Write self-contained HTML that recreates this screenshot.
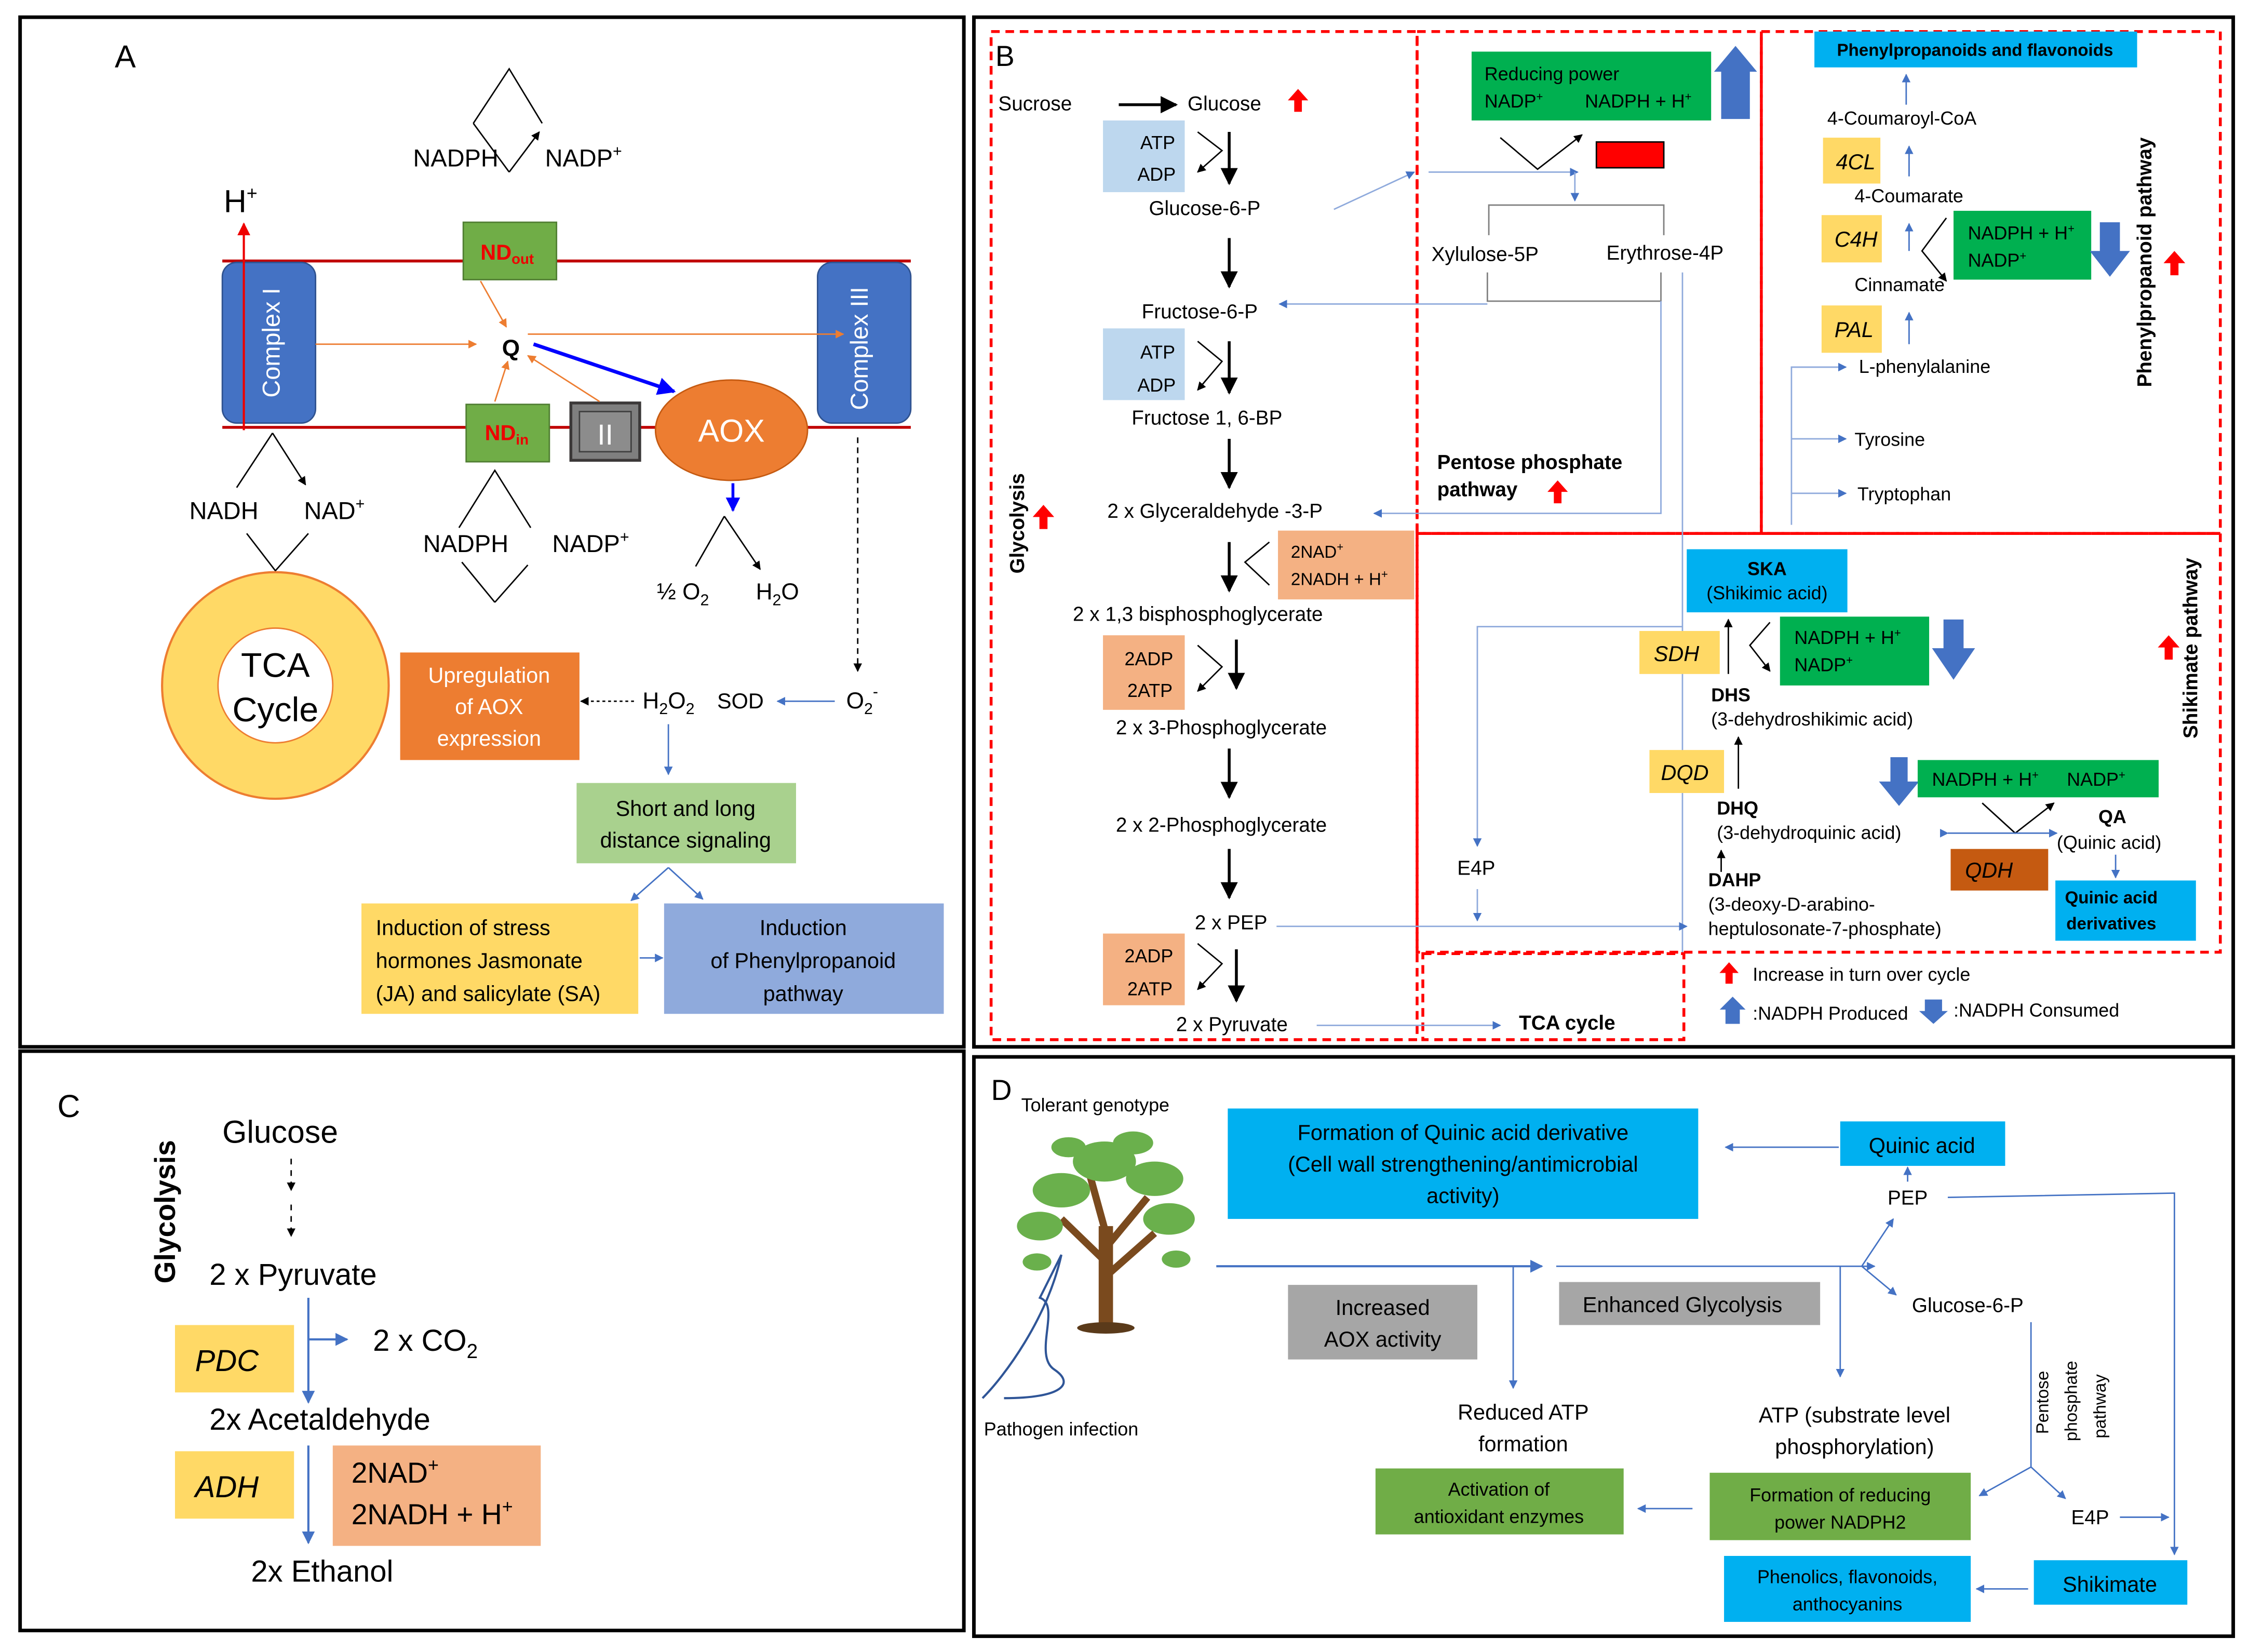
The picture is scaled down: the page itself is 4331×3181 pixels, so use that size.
<!DOCTYPE html>
<html><head><meta charset="utf-8"><style>
html,body{margin:0;padding:0;background:#fff}
svg{display:block}
text{font-family:"Liberation Sans",sans-serif;fill:#000}
</style></head><body>
<svg width="4331" height="3181" viewBox="0 0 1568 1152" preserveAspectRatio="none" xmlns="http://www.w3.org/2000/svg">
<defs>
<marker id="ab" viewBox="0 0 10 10" refX="9" refY="5" markerWidth="6" markerHeight="6" orient="auto"><path d="M0,0L10,5L0,10z" fill="#000"/></marker>
<marker id="abl" viewBox="0 0 10 10" refX="9" refY="5" markerWidth="6" markerHeight="6" orient="auto"><path d="M0,0L10,5L0,10z" fill="#4472C4"/></marker>
<marker id="abb" viewBox="0 0 10 10" refX="9" refY="5" markerWidth="5" markerHeight="5" orient="auto"><path d="M0,0L10,5L0,10z" fill="#0000ff"/></marker>
<marker id="ao" viewBox="0 0 10 10" refX="9" refY="5" markerWidth="6" markerHeight="6" orient="auto"><path d="M0,0L10,5L0,10z" fill="#ED7D31"/></marker>
<marker id="ar" viewBox="0 0 10 10" refX="9" refY="5" markerWidth="6" markerHeight="6" orient="auto"><path d="M0,0L10,5L0,10z" fill="#e00"/></marker>
<symbol id="rup" viewBox="0 0 16 18"><path d="M8,0L16,9H11V18H5V9H0z" fill="#f00"/></symbol>
</defs>
<rect width="1568" height="1152" fill="#fff"/>
<rect x="14" y="12" width="658" height="718" fill="none" stroke="#000" stroke-width="2.5"/>
<rect x="679" y="12" width="878" height="718" fill="none" stroke="#000" stroke-width="2.5"/>
<rect x="14" y="733" width="658" height="404" fill="none" stroke="#000" stroke-width="2.5"/>
<rect x="679" y="737" width="878" height="404" fill="none" stroke="#000" stroke-width="2.5"/>

<!-- ===== A ===== -->
<text x="80" y="47" font-size="22">A</text>
<line x1="155" y1="182" x2="635" y2="182" stroke="#c00000" stroke-width="2"/>
<line x1="155" y1="298" x2="635" y2="298" stroke="#c00000" stroke-width="2"/>
<rect x="155" y="183" width="65" height="112" rx="10" fill="#4472C4" stroke="#2f528f"/>
<text transform="translate(195,239) rotate(-90)" font-size="17" text-anchor="middle" style="fill:#fff">Complex I</text>
<rect x="570" y="183" width="65" height="112" rx="10" fill="#4472C4" stroke="#2f528f"/>
<text transform="translate(605,243) rotate(-90)" font-size="17" text-anchor="middle" style="fill:#fff">Complex III</text>
<text x="156" y="148" font-size="22">H<tspan font-size="13" dy="-9">+</tspan></text>
<line x1="170" y1="300" x2="170" y2="156" stroke="#e00" stroke-width="1.5" marker-end="url(#ar)"/>
<polyline points="330,86 355,48 378,86" fill="none" stroke="#000"/>
<line x1="355" y1="120" x2="330" y2="86" stroke="#000"/>
<line x1="355" y1="120" x2="376" y2="92" stroke="#000" marker-end="url(#ab)"/>
<text x="288" y="116" font-size="17">NADPH</text>
<text x="380" y="116" font-size="17">NADP<tspan font-size="11" dy="-7">+</tspan></text>
<rect x="323" y="155" width="65" height="40" fill="#70AD47" stroke="#507e32"/>
<text x="335" y="181" font-size="15" font-weight="bold" style="fill:#e00">ND<tspan font-size="10" dy="3">out</tspan></text>
<rect x="325" y="282" width="58" height="40" fill="#70AD47" stroke="#507e32"/>
<text x="338" y="307" font-size="15" font-weight="bold" style="fill:#e00">ND<tspan font-size="10" dy="3">in</tspan></text>
<rect x="398" y="281" width="48" height="40" fill="#7f7f7f" stroke="#3b3838" stroke-width="2"/>
<rect x="404" y="287" width="36" height="28" fill="#8c8c8c" stroke="#404040"/>
<text x="422" y="310" font-size="20" text-anchor="middle" style="fill:#fff">II</text>
<ellipse cx="510" cy="300" rx="53" ry="35" fill="#ED7D31" stroke="#c55a11"/>
<text x="510" y="308" font-size="22" text-anchor="middle" style="fill:#fff">AOX</text>
<text x="350" y="248" font-size="16" font-weight="bold">Q</text>
<line x1="220" y1="240" x2="332" y2="240" stroke="#ED7D31" marker-end="url(#ao)"/>
<line x1="368" y1="233" x2="588" y2="233" stroke="#ED7D31" marker-end="url(#ao)"/>
<line x1="335" y1="196" x2="353" y2="228" stroke="#ED7D31" marker-end="url(#ao)"/>
<line x1="345" y1="280" x2="354" y2="252" stroke="#ED7D31" marker-end="url(#ao)"/>
<line x1="418" y1="280" x2="368" y2="248" stroke="#ED7D31" marker-end="url(#ao)"/>
<line x1="372" y1="240" x2="470" y2="273" stroke="#0000ff" stroke-width="2.5" marker-end="url(#abb)"/>
<polyline points="320,368 345,328 370,368" fill="none" stroke="#000"/>
<line x1="345" y1="420" x2="322" y2="392" stroke="#000"/>
<line x1="345" y1="420" x2="368" y2="394" stroke="#000"/>
<text x="295" y="385" font-size="17">NADPH</text>
<text x="385" y="385" font-size="17">NADP<tspan font-size="11" dy="-7">+</tspan></text>
<line x1="190" y1="302" x2="165" y2="340" stroke="#000"/>
<line x1="190" y1="302" x2="213" y2="338" stroke="#000" marker-end="url(#ab)"/>
<polyline points="172,372 192,398 215,372" fill="none" stroke="#000"/>
<text x="132" y="362" font-size="17">NADH</text>
<text x="212" y="362" font-size="17">NAD<tspan font-size="11" dy="-7">+</tspan></text>
<circle cx="192" cy="478" r="79" fill="#FFD966" stroke="#ED7D31" stroke-width="1.5"/>
<circle cx="192" cy="478" r="40" fill="#fff" stroke="#ED7D31"/>
<text x="192" y="472" font-size="24" text-anchor="middle">TCA</text>
<text x="192" y="503" font-size="24" text-anchor="middle">Cycle</text>
<line x1="511" y1="337" x2="511" y2="356" stroke="#0000ff" stroke-width="2" marker-end="url(#abb)"/>
<line x1="505" y1="360" x2="485" y2="395" stroke="#000"/>
<line x1="505" y1="360" x2="530" y2="397" stroke="#000" marker-end="url(#ab)"/>
<text x="458" y="418" font-size="16">½ O<tspan font-size="11" dy="4">2</tspan></text>
<text x="527" y="418" font-size="16">H<tspan font-size="11" dy="4">2</tspan><tspan dy="-4">O</tspan></text>
<line x1="598" y1="305" x2="598" y2="468" stroke="#000" stroke-dasharray="4,3" marker-end="url(#ab)"/>
<text x="590" y="494" font-size="16">O<tspan font-size="11" dy="4">2</tspan><tspan font-size="11" dy="-12">-</tspan></text>
<line x1="582" y1="489" x2="542" y2="489" stroke="#4472C4" marker-end="url(#abl)"/>
<text x="500" y="494" font-size="15">SOD</text>
<text x="448" y="494" font-size="16">H<tspan font-size="11" dy="4">2</tspan><tspan dy="-4">O</tspan><tspan font-size="11" dy="4">2</tspan></text>
<line x1="442" y1="489" x2="405" y2="489" stroke="#000" stroke-dasharray="2,2" marker-end="url(#ab)"/>
<rect x="279" y="455" width="125" height="75" fill="#ED7D31"/>
<text x="341" y="476" font-size="15" text-anchor="middle" style="fill:#fff">Upregulation</text>
<text x="341" y="498" font-size="15" text-anchor="middle" style="fill:#fff">of AOX</text>
<text x="341" y="520" font-size="15" text-anchor="middle" style="fill:#fff">expression</text>
<line x1="466" y1="505" x2="466" y2="540" stroke="#4472C4" marker-end="url(#abl)"/>
<rect x="402" y="546" width="153" height="56" fill="#A9D18E"/>
<text x="478" y="569" font-size="15" text-anchor="middle">Short and long</text>
<text x="478" y="591" font-size="15" text-anchor="middle">distance signaling</text>
<line x1="466" y1="605" x2="440" y2="628" stroke="#4472C4" marker-end="url(#abl)"/>
<line x1="466" y1="605" x2="490" y2="627" stroke="#4472C4" marker-end="url(#abl)"/>
<rect x="252" y="630" width="193" height="77" fill="#FFD966"/>
<text x="262" y="652" font-size="15">Induction of stress</text>
<text x="262" y="675" font-size="15">hormones Jasmonate</text>
<text x="262" y="698" font-size="15">(JA) and salicylate (SA)</text>
<line x1="446" y1="668" x2="462" y2="668" stroke="#4472C4" marker-end="url(#abl)"/>
<rect x="463" y="630" width="195" height="77" fill="#8FAADC"/>
<text x="560" y="652" font-size="15" text-anchor="middle">Induction</text>
<text x="560" y="675" font-size="15" text-anchor="middle">of Phenylpropanoid</text>
<text x="560" y="698" font-size="15" text-anchor="middle">pathway</text>

<!-- ===== B ===== -->
<g fill="none" stroke="#f00" stroke-width="2" stroke-dasharray="6,4">
<rect x="691" y="22" width="297" height="703"/>
<rect x="988" y="22" width="240" height="350"/>
<rect x="1228" y="22" width="320" height="350"/>
<rect x="988" y="372" width="560" height="292"/>
<rect x="992" y="665" width="182" height="60"/>
</g>
<text x="694" y="46" font-size="20">B</text>
<text x="696" y="77" font-size="14">Sucrose</text>
<line x1="780" y1="73" x2="820" y2="73" stroke="#000" stroke-width="2" marker-end="url(#ab)"/>
<text x="828" y="77" font-size="14">Glucose</text>
<use href="#rup" x="897" y="62" width="16" height="16"/>
<g font-size="13">
<rect x="769" y="84" width="57" height="50" fill="#BDD7EE"/>
<text x="795" y="104">ATP</text><text x="793" y="126">ADP</text>
<rect x="769" y="229" width="57" height="50" fill="#BDD7EE"/>
<text x="795" y="250">ATP</text><text x="793" y="273">ADP</text>
</g>
<g stroke="#000" fill="none">
<polyline points="835,92 852,105 835,120" marker-end="url(#ab)"/>
<polyline points="835,238 852,252 835,272" marker-end="url(#ab)"/>
</g>
<g stroke="#000" stroke-width="2" marker-end="url(#ab)">
<line x1="857" y1="92" x2="857" y2="128"/>
<line x1="857" y1="166" x2="857" y2="200"/>
<line x1="857" y1="238" x2="857" y2="274"/>
<line x1="857" y1="306" x2="857" y2="340"/>
<line x1="857" y1="378" x2="857" y2="412"/>
<line x1="862" y1="446" x2="862" y2="480"/>
<line x1="857" y1="522" x2="857" y2="556"/>
<line x1="857" y1="592" x2="857" y2="626"/>
<line x1="862" y1="662" x2="862" y2="698"/>
</g>
<g font-size="14">
<text x="801" y="150">Glucose-6-P</text>
<text x="796" y="222">Fructose-6-P</text>
<text x="789" y="296">Fructose 1, 6-BP</text>
<text x="772" y="361">2 x Glyceraldehyde -3-P</text>
<text x="748" y="433">2 x 1,3 bisphosphoglycerate</text>
<text x="778" y="512">2 x 3-Phosphoglycerate</text>
<text x="778" y="580">2 x 2-Phosphoglycerate</text>
<text x="833" y="648">2 x PEP</text>
<text x="820" y="719">2 x Pyruvate</text>
</g>
<rect x="891" y="370" width="95" height="48" fill="#F4B183"/>
<text x="900" y="389" font-size="12">2NAD<tspan font-size="8" dy="-5">+</tspan></text>
<text x="900" y="408" font-size="12">2NADH + H<tspan font-size="8" dy="-5">+</tspan></text>
<polyline points="885,378 868,392 885,408" fill="none" stroke="#000"/>
<rect x="769" y="443" width="57" height="52" fill="#F4B183"/>
<text x="784" y="464" font-size="13">2ADP</text><text x="786" y="486" font-size="13">2ATP</text>
<polyline points="835,450 852,465 835,482" fill="none" stroke="#000" marker-end="url(#ab)"/>
<rect x="769" y="651" width="57" height="50" fill="#F4B183"/>
<text x="784" y="671" font-size="13">2ADP</text><text x="786" y="694" font-size="13">2ATP</text>
<polyline points="835,658 852,672 835,690" fill="none" stroke="#000" marker-end="url(#ab)"/>
<text transform="translate(714,400) rotate(-90)" font-size="14" font-weight="bold">Glycolysis</text>
<use href="#rup" x="720" y="352" width="15" height="17"/>
<rect x="1026" y="36" width="167" height="48" fill="#00B050"/>
<text x="1035" y="56" font-size="13">Reducing power</text>
<text x="1035" y="75" font-size="13">NADP<tspan font-size="8" dy="-5">+</tspan></text>
<text x="1105" y="75" font-size="13">NADPH + H<tspan font-size="8" dy="-5">+</tspan></text>
<path d="M1200,83V50H1195L1210,32L1225,50H1220V83z" fill="#4472C4"/>
<polyline points="1046,96 1072,118 1103,94" fill="none" stroke="#000" marker-end="url(#ab)"/>
<rect x="1113" y="99" width="47" height="18" fill="#f00" stroke="#000"/>
<line x1="930" y1="146" x2="986" y2="120" stroke="#8FAADC" marker-end="url(#abl)"/>
<line x1="996" y1="120" x2="1100" y2="120" stroke="#8FAADC" marker-end="url(#abl)"/>
<line x1="1098" y1="120" x2="1098" y2="140" stroke="#8FAADC" marker-end="url(#abl)"/>
<polyline points="1038,164 1038,143 1160,143 1160,164" fill="none" stroke="#7f7f7f"/>
<text x="998" y="182" font-size="14">Xylulose-5P</text>
<text x="1120" y="181" font-size="14">Erythrose-4P</text>
<polyline points="1037,190 1037,210 1158,210 1158,190" fill="none" stroke="#7f7f7f"/>
<line x1="1037" y1="212" x2="892" y2="212" stroke="#8FAADC" marker-end="url(#abl)"/>
<polyline points="1158,210 1158,358 958,358" fill="none" stroke="#8FAADC" marker-end="url(#abl)"/>
<line x1="1173" y1="190" x2="1173" y2="664" stroke="#8FAADC"/>
<text x="1002" y="327" font-size="14" font-weight="bold">Pentose phosphate</text>
<text x="1002" y="346" font-size="14" font-weight="bold">pathway</text>
<use href="#rup" x="1078" y="335" width="16" height="16"/>
<rect x="1265" y="22" width="225" height="25" fill="#00B0F0"/>
<text x="1377" y="39" font-size="12" text-anchor="middle" font-weight="bold">Phenylpropanoids and flavonoids</text>
<line x1="1329" y1="73" x2="1329" y2="52" stroke="#4472C4" marker-end="url(#abl)"/>
<text x="1274" y="87" font-size="13">4-Coumaroyl-CoA</text>
<rect x="1271" y="96" width="40" height="32" fill="#FFD966"/>
<text x="1280" y="118" font-size="15" font-style="italic">4CL</text>
<line x1="1331" y1="123" x2="1331" y2="102" stroke="#4472C4" marker-end="url(#abl)"/>
<text x="1293" y="141" font-size="13">4-Coumarate</text>
<rect x="1270" y="150" width="42" height="33" fill="#FFD966"/>
<text x="1279" y="172" font-size="15" font-style="italic">C4H</text>
<line x1="1331" y1="175" x2="1331" y2="156" stroke="#4472C4" marker-end="url(#abl)"/>
<polyline points="1357,152 1340,175 1357,196" fill="none" stroke="#000" marker-end="url(#ab)"/>
<rect x="1362" y="147" width="96" height="48" fill="#00B050"/>
<text x="1372" y="167" font-size="13">NADPH + H<tspan font-size="8" dy="-5">+</tspan></text>
<text x="1372" y="186" font-size="13">NADP<tspan font-size="8" dy="-5">+</tspan></text>
<path d="M1464,155H1478V175H1485L1471,193L1457,175H1464z" fill="#4472C4"/>
<text x="1293" y="203" font-size="13">Cinnamate</text>
<rect x="1270" y="213" width="42" height="33" fill="#FFD966"/>
<text x="1279" y="235" font-size="15" font-style="italic">PAL</text>
<line x1="1331" y1="240" x2="1331" y2="218" stroke="#4472C4" marker-end="url(#abl)"/>
<polyline points="1287,256 1249,256 1249,366" fill="none" stroke="#8FAADC"/>
<line x1="1249" y1="256" x2="1287" y2="256" stroke="#8FAADC" marker-end="url(#abl)"/>
<line x1="1249" y1="306" x2="1287" y2="306" stroke="#8FAADC" marker-end="url(#abl)"/>
<line x1="1249" y1="344" x2="1287" y2="344" stroke="#8FAADC" marker-end="url(#abl)"/>
<text x="1296" y="260" font-size="13">L-phenylalanine</text>
<text x="1293" y="311" font-size="13">Tyrosine</text>
<text x="1295" y="349" font-size="13">Tryptophan</text>
<text transform="translate(1500,270) rotate(-90)" font-size="14" font-weight="bold">Phenylpropanoid  pathway</text>
<use href="#rup" x="1508" y="175" width="16" height="17"/>
<rect x="1176" y="383" width="112" height="44" fill="#00B0F0"/>
<text x="1232" y="401" font-size="13" text-anchor="middle" font-weight="bold">SKA</text>
<text x="1232" y="418" font-size="13" text-anchor="middle">(Shikimic acid)</text>
<rect x="1143" y="440" width="56" height="30" fill="#FFD966"/>
<text x="1153" y="461" font-size="15" font-style="italic">SDH</text>
<line x1="1205" y1="470" x2="1205" y2="432" stroke="#000" marker-end="url(#ab)"/>
<polyline points="1234,434 1220,450 1234,468" fill="none" stroke="#000" marker-end="url(#ab)"/>
<rect x="1241" y="430" width="104" height="48" fill="#00B050"/>
<text x="1251" y="449" font-size="13">NADPH + H<tspan font-size="8" dy="-5">+</tspan></text>
<text x="1251" y="468" font-size="13">NADP<tspan font-size="8" dy="-5">+</tspan></text>
<path d="M1355,432H1369V452H1377L1362,474L1347,452H1355z" fill="#4472C4"/>
<text x="1193" y="489" font-size="13" font-weight="bold">DHS</text>
<text x="1193" y="506" font-size="13">(3-dehydroshikimic acid)</text>
<rect x="1150" y="523" width="52" height="30" fill="#FFD966"/>
<text x="1158" y="544" font-size="15" font-style="italic">DQD</text>
<line x1="1212" y1="550" x2="1212" y2="514" stroke="#000" marker-end="url(#ab)"/>
<text x="1197" y="568" font-size="13" font-weight="bold">DHQ</text>
<text x="1197" y="585" font-size="13">(3-dehydroquinic acid)</text>
<line x1="1200" y1="608" x2="1200" y2="593" stroke="#000" marker-end="url(#ab)"/>
<text x="1191" y="618" font-size="13" font-weight="bold">DAHP</text>
<text x="1191" y="635" font-size="13">(3-deoxy-D-arabino-</text>
<text x="1191" y="652" font-size="13">heptulosonate-7-phosphate)</text>
<path d="M1318,528H1330V545H1338L1324,562L1310,545H1318z" fill="#4472C4"/>
<rect x="1337" y="530" width="168" height="26" fill="#00B050"/>
<text x="1347" y="548" font-size="13">NADPH + H<tspan font-size="8" dy="-5">+</tspan></text>
<text x="1441" y="548" font-size="13">NADP<tspan font-size="8" dy="-5">+</tspan></text>
<polyline points="1382,560 1405,581 1432,560" fill="none" stroke="#000" marker-end="url(#ab)"/>
<line x1="1358" y1="581" x2="1434" y2="581" stroke="#4472C4" marker-end="url(#abl)" marker-start="url(#abl)"/>
<text x="1463" y="574" font-size="13" font-weight="bold">QA</text>
<text x="1434" y="592" font-size="13">(Quinic acid)</text>
<rect x="1360" y="592" width="68" height="29" fill="#C55A11"/>
<text x="1370" y="612" font-size="15" font-style="italic">QDH</text>
<line x1="1475" y1="596" x2="1475" y2="612" stroke="#4472C4" marker-end="url(#abl)"/>
<rect x="1433" y="614" width="98" height="42" fill="#00B0F0"/>
<text x="1472" y="630" font-size="12" text-anchor="middle" font-weight="bold">Quinic acid</text>
<text x="1472" y="648" font-size="12" text-anchor="middle" font-weight="bold">derivatives</text>
<text transform="translate(1532,515) rotate(-90)" font-size="14" font-weight="bold">Shikimate pathway</text>
<use href="#rup" x="1504" y="443" width="16" height="17"/>
<polyline points="1173,437 1030,437 1030,590" fill="none" stroke="#8FAADC" marker-end="url(#abl)"/>
<text x="1016" y="610" font-size="14">E4P</text>
<line x1="1030" y1="620" x2="1030" y2="642" stroke="#8FAADC" marker-end="url(#abl)"/>
<line x1="890" y1="646" x2="1176" y2="646" stroke="#8FAADC" marker-end="url(#abl)"/>
<line x1="918" y1="715" x2="1046" y2="715" stroke="#8FAADC" marker-end="url(#abl)"/>
<text x="1059" y="718" font-size="14" font-weight="bold">TCA cycle</text>
<use href="#rup" x="1198" y="671" width="15" height="15"/>
<text x="1222" y="684" font-size="13">Increase in turn over cycle</text>
<path d="M1203,714V704H1199L1208,695L1217,704H1213V714z" fill="#4472C4"/>
<text x="1222" y="711" font-size="13">:NADPH Produced</text>
<path d="M1342,697H1354V705H1358L1348,714L1338,705H1342z" fill="#4472C4"/>
<text x="1362" y="709" font-size="13">:NADPH Consumed</text>

<!-- ===== C ===== -->
<text x="40" y="779" font-size="22">C</text>
<text transform="translate(122,895) rotate(-90)" font-size="20" font-weight="bold">Glycolysis</text>
<text x="155" y="797" font-size="22">Glucose</text>
<line x1="203" y1="808" x2="203" y2="830" stroke="#000" stroke-dasharray="4,4" marker-end="url(#ab)"/>
<line x1="203" y1="840" x2="203" y2="862" stroke="#000" stroke-dasharray="4,4" marker-end="url(#ab)"/>
<text x="146" y="896" font-size="21">2 x Pyruvate</text>
<rect x="122" y="924" width="83" height="47" fill="#FFD966"/>
<text x="136" y="956" font-size="21" font-style="italic">PDC</text>
<line x1="215" y1="905" x2="215" y2="978" stroke="#4472C4" stroke-width="1.5" marker-end="url(#abl)"/>
<line x1="215" y1="934" x2="242" y2="934" stroke="#4472C4" stroke-width="1.5" marker-end="url(#abl)"/>
<text x="260" y="942" font-size="21">2 x CO<tspan font-size="14" dy="5">2</tspan></text>
<text x="146" y="997" font-size="21">2x Acetaldehyde</text>
<rect x="122" y="1012" width="83" height="47" fill="#FFD966"/>
<text x="136" y="1044" font-size="21" font-style="italic">ADH</text>
<rect x="232" y="1008" width="145" height="70" fill="#F4B183"/>
<text x="245" y="1034" font-size="20">2NAD<tspan font-size="13" dy="-8">+</tspan></text>
<text x="245" y="1063" font-size="20">2NADH + H<tspan font-size="13" dy="-8">+</tspan></text>
<line x1="215" y1="1008" x2="215" y2="1076" stroke="#4472C4" stroke-width="1.5" marker-end="url(#abl)"/>
<text x="175" y="1103" font-size="21">2x Ethanol</text>

<!-- ===== D ===== -->
<text x="691" y="767" font-size="20">D</text>
<text x="712" y="775" font-size="13">Tolerant genotype</text>
<rect x="766" y="855" width="10" height="70" fill="#7a4a1e"/>
<path d="M771,880L740,850M771,870L800,835M771,860L760,820M771,890L805,860" stroke="#7a4a1e" stroke-width="5" fill="none"/>
<g fill="#6ab04c">
<ellipse cx="740" cy="830" rx="20" ry="12"/><ellipse cx="770" cy="810" rx="22" ry="14"/><ellipse cx="805" cy="822" rx="20" ry="12"/>
<ellipse cx="725" cy="855" rx="16" ry="10"/><ellipse cx="815" cy="850" rx="18" ry="11"/><ellipse cx="790" cy="797" rx="14" ry="8"/>
<ellipse cx="745" cy="800" rx="12" ry="7"/><ellipse cx="820" cy="878" rx="10" ry="6"/><ellipse cx="723" cy="880" rx="10" ry="6"/>
</g>
<ellipse cx="771" cy="926" rx="20" ry="4" fill="#5a3a1a"/>
<path d="M685,975C700,960 730,920 740,875L725,905C740,910 720,945 735,955C750,965 740,975 700,975" fill="none" stroke="#2f5597" stroke-width="1.5"/>
<text x="686" y="1001" font-size="13">Pathogen infection</text>
<line x1="848" y1="883" x2="1075" y2="883" stroke="#4472C4" stroke-width="1.5" marker-end="url(#abl)"/>
<line x1="1085" y1="883" x2="1307" y2="883" stroke="#4472C4" marker-end="url(#abl)"/>
<line x1="1298" y1="883" x2="1320" y2="850" stroke="#4472C4" marker-end="url(#abl)"/>
<line x1="1298" y1="883" x2="1322" y2="903" stroke="#4472C4" marker-end="url(#abl)"/>
<line x1="1055" y1="883" x2="1055" y2="968" stroke="#4472C4" marker-end="url(#abl)"/>
<line x1="1283" y1="883" x2="1283" y2="960" stroke="#4472C4" marker-end="url(#abl)"/>
<rect x="856" y="773" width="328" height="77" fill="#00B0F0"/>
<text x="1020" y="795" font-size="15" text-anchor="middle">Formation of Quinic acid derivative</text>
<text x="1020" y="817" font-size="15" text-anchor="middle">(Cell wall strengthening/antimicrobial</text>
<text x="1020" y="839" font-size="15" text-anchor="middle">activity)</text>
<rect x="1283" y="782" width="115" height="31" fill="#00B0F0"/>
<text x="1340" y="804" font-size="15" text-anchor="middle">Quinic acid</text>
<line x1="1282" y1="800" x2="1203" y2="800" stroke="#4472C4" marker-end="url(#abl)"/>
<line x1="1330" y1="824" x2="1330" y2="814" stroke="#4472C4" marker-end="url(#abl)"/>
<text x="1316" y="840" font-size="14">PEP</text>
<polyline points="1358,835 1516,832 1516,1084" fill="none" stroke="#4472C4" marker-end="url(#abl)"/>
<rect x="898" y="896" width="132" height="52" fill="#A6A6A6"/>
<text x="964" y="917" font-size="15" text-anchor="middle">Increased</text>
<text x="964" y="939" font-size="15" text-anchor="middle">AOX activity</text>
<rect x="1087" y="894" width="182" height="30" fill="#A6A6A6"/>
<text x="1173" y="915" font-size="15" text-anchor="middle">Enhanced Glycolysis</text>
<text x="1333" y="915" font-size="14">Glucose-6-P</text>
<text x="1062" y="990" font-size="15" text-anchor="middle">Reduced ATP</text>
<text x="1062" y="1012" font-size="15" text-anchor="middle">formation</text>
<text x="1293" y="992" font-size="15" text-anchor="middle">ATP (substrate level</text>
<text x="1293" y="1014" font-size="15" text-anchor="middle">phosphorylation)</text>
<polyline points="1416,922 1416,1023 1380,1043" fill="none" stroke="#4472C4" marker-end="url(#abl)"/>
<line x1="1416" y1="1023" x2="1440" y2="1045" stroke="#4472C4" marker-end="url(#abl)"/>
<text transform="translate(1428,1000) rotate(-90)" font-size="12">Pentose</text>
<text transform="translate(1448,1005) rotate(-90)" font-size="12">phosphate</text>
<text transform="translate(1468,1003) rotate(-90)" font-size="12">pathway</text>
<text x="1444" y="1063" font-size="14">E4P</text>
<line x1="1478" y1="1058" x2="1512" y2="1058" stroke="#4472C4" marker-end="url(#abl)"/>
<rect x="959" y="1024" width="173" height="46" fill="#70AD47"/>
<text x="1045" y="1043" font-size="13" text-anchor="middle">Activation of</text>
<text x="1045" y="1062" font-size="13" text-anchor="middle">antioxidant enzymes</text>
<line x1="1180" y1="1052" x2="1142" y2="1052" stroke="#4472C4" marker-end="url(#abl)"/>
<rect x="1192" y="1027" width="182" height="47" fill="#70AD47"/>
<text x="1283" y="1047" font-size="13" text-anchor="middle">Formation of reducing</text>
<text x="1283" y="1066" font-size="13" text-anchor="middle">power NADPH2</text>
<rect x="1202" y="1085" width="172" height="46" fill="#00B0F0"/>
<text x="1288" y="1104" font-size="13" text-anchor="middle">Phenolics, flavonoids,</text>
<text x="1288" y="1123" font-size="13" text-anchor="middle">anthocyanins</text>
<line x1="1414" y1="1108" x2="1378" y2="1108" stroke="#4472C4" marker-end="url(#abl)"/>
<rect x="1418" y="1088" width="107" height="31" fill="#00B0F0"/>
<text x="1471" y="1110" font-size="15" text-anchor="middle">Shikimate</text>
</svg>
</body></html>
